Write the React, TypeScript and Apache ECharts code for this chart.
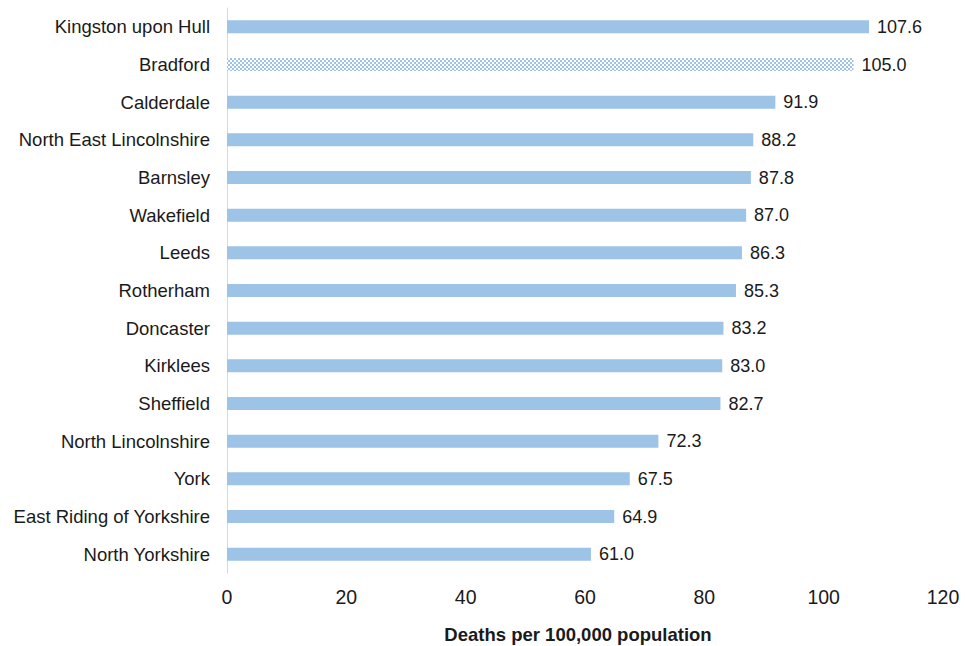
import React, { useEffect, useRef } from "react";
import * as echarts from "echarts";

// Local authorities, top to bottom
const areas = [
  "Kingston upon Hull",
  "Bradford",
  "Calderdale",
  "North East Lincolnshire",
  "Barnsley",
  "Wakefield",
  "Leeds",
  "Rotherham",
  "Doncaster",
  "Kirklees",
  "Sheffield",
  "North Lincolnshire",
  "York",
  "East Riding of Yorkshire",
  "North Yorkshire",
];

// Deaths per 100,000 population
const rates = [107.6, 105.0, 91.9, 88.2, 87.8, 87.0, 86.3, 85.3, 83.2, 83.0, 82.7, 72.3, 67.5, 64.9, 61.0];

// Area drawn with the checked fill
const highlighted = "Bradford";

const axisTicks = [0, 20, 40, 60, 80, 100, 120];
const axisTitle = "Deaths per 100,000 population";

const BAR_BLUE = "#9dc3e6";
const FONT = "'Liberation Sans', Arial, sans-serif";

function checkerPattern(): HTMLCanvasElement {
  const c = document.createElement("canvas");
  c.width = 4;
  c.height = 4;
  const ctx = c.getContext("2d")!;
  ctx.fillStyle = "#ffffff";
  ctx.fillRect(0, 0, 4, 4);
  ctx.fillStyle = BAR_BLUE;
  ctx.fillRect(0, 0, 2, 2);
  ctx.fillRect(2, 2, 2, 2);
  return c;
}

export default function App() {
  const ref = useRef<HTMLDivElement>(null);

  useEffect(() => {
    if (!ref.current) return;
    const chart = echarts.init(ref.current, undefined, { renderer: "svg" });
    const pattern = checkerPattern();

    chart.setOption({
      animation: false,
      backgroundColor: "#ffffff",
      grid: { left: 227, right: 22, top: 8, bottom: 73, containLabel: false },
      xAxis: {
        type: "value",
        min: axisTicks[0],
        max: axisTicks[axisTicks.length - 1],
        interval: axisTicks[1] - axisTicks[0],
        axisLine: { show: false },
        axisTick: { show: false },
        splitLine: { show: false },
        axisLabel: {
          margin: 14,
          fontFamily: FONT,
          fontSize: 19.5,
          color: "#1a1a1a",
        },
      },
      yAxis: {
        type: "category",
        data: areas,
        inverse: true,
        axisLine: { show: true, lineStyle: { color: "#d9d9d9", width: 1 } },
        axisTick: { show: false },
        axisLabel: {
          margin: 17,
          fontFamily: FONT,
          fontSize: 18.5,
          color: "#1a1a1a",
        },
      },
      series: [
        {
          type: "bar",
          barWidth: 13,
          data: areas.map((name, i) => ({
            value: rates[i],
            itemStyle:
              name === highlighted
                ? { color: { image: pattern, repeat: "repeat" } }
                : { color: BAR_BLUE },
          })),
          label: {
            show: true,
            position: "right",
            distance: 8,
            fontFamily: FONT,
            fontSize: 18,
            color: "#1a1a1a",
            formatter: (p: any) => Number(p.value).toFixed(1),
          },
        },
      ],
      graphic: [
        {
          type: "text",
          x: 578,
          y: 634,
          style: {
            text: axisTitle,
            fontFamily: FONT,
            fontSize: 18.5,
            fontWeight: "bold",
            fill: "#1a1a1a",
            textAlign: "center",
            textVerticalAlign: "middle",
          },
        },
      ],
    });

    return () => chart.dispose();
  }, []);

  return <div ref={ref} style={{ width: 965, height: 646, position: "absolute", left: 0, top: 0 }} />;
}
